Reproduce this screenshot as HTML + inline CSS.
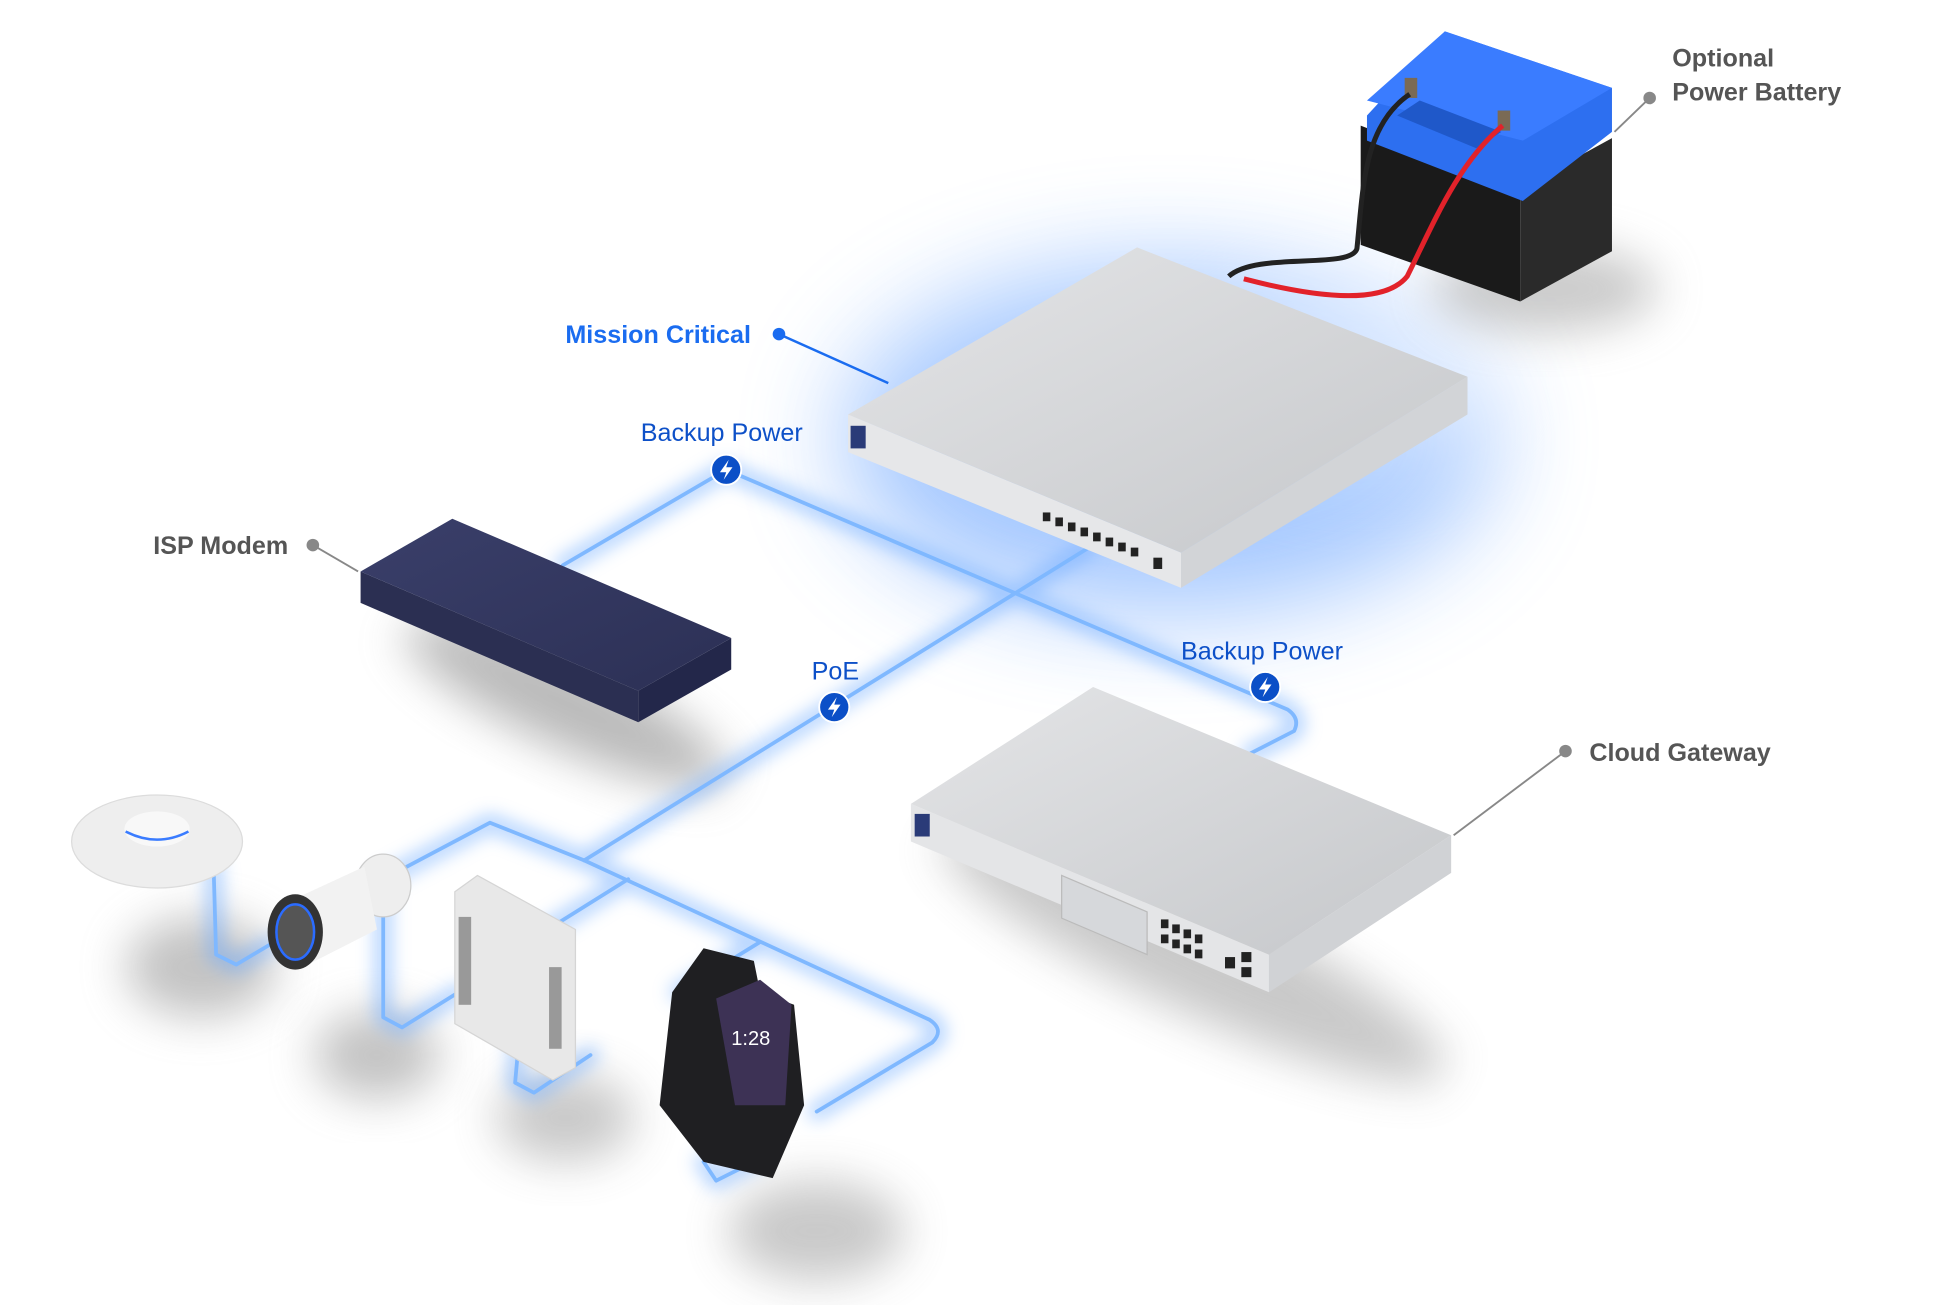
<!DOCTYPE html>
<html><head><meta charset="utf-8"><style>
html,body{margin:0;padding:0;background:#fff;}
svg{display:block;}
</style></head><body>
<svg width="1960" height="1305" viewBox="0 0 1560 1039" preserveAspectRatio="none" xmlns="http://www.w3.org/2000/svg" font-family="Liberation Sans, sans-serif">
<defs>
<filter id="b40" x="-50%" y="-50%" width="200%" height="200%"><feGaussianBlur stdDeviation="40"/></filter>
<filter id="b20" x="-50%" y="-50%" width="200%" height="200%"><feGaussianBlur stdDeviation="18"/></filter>
<filter id="b8" x="-50%" y="-50%" width="200%" height="200%"><feGaussianBlur stdDeviation="7"/></filter>
<linearGradient id="top" x1="0" y1="0" x2="1" y2="1"><stop offset="0" stop-color="#e4e5e7"/><stop offset="1" stop-color="#c5c7ca"/></linearGradient>
<linearGradient id="navy" x1="0" y1="0" x2="1" y2="1"><stop offset="0" stop-color="#3a3f6a"/><stop offset="1" stop-color="#2c3055"/></linearGradient>
</defs>

<!-- glows -->
<ellipse cx="930" cy="350" rx="260" ry="140" fill="#5b9bff" opacity="0.55" filter="url(#b40)"/>
<ellipse cx="1080" cy="300" rx="130" ry="70" fill="#ffffff" opacity="0.5" filter="url(#b40)"/>

<!-- shadows -->
<ellipse cx="1230" cy="230" rx="90" ry="35" fill="#999" opacity="0.5" filter="url(#b20)"/>
<ellipse cx="450" cy="560" rx="140" ry="35" fill="#777" opacity="0.5" filter="url(#b20)" transform="rotate(25 450 560)"/>
<ellipse cx="950" cy="760" rx="220" ry="45" fill="#888" opacity="0.45" filter="url(#b20)" transform="rotate(25 950 760)"/>
<ellipse cx="160" cy="770" rx="60" ry="40" fill="#888" opacity="0.5" filter="url(#b20)"/>
<ellipse cx="300" cy="840" rx="50" ry="35" fill="#888" opacity="0.5" filter="url(#b20)"/>
<ellipse cx="450" cy="890" rx="55" ry="35" fill="#888" opacity="0.45" filter="url(#b20)"/>
<ellipse cx="650" cy="980" rx="70" ry="40" fill="#888" opacity="0.45" filter="url(#b20)"/>

<!-- cables -->
<g fill="none" stroke-linejoin="round" stroke-linecap="round">
<g stroke="#6aa9ff" stroke-width="14" opacity="0.5" filter="url(#b8)">
<path d="M448,450 L578,374 L1025,565 Q1035,572 1030,582 L995,600"/>
<path d="M865,437 L465,685"/>
<path d="M465,685 L390,655 L305,700 L305,810 L320,818 L365,790"/>
<path d="M465,685 L740,812 Q752,820 742,830 L650,885"/>
<path d="M500,700 L420,750 L410,862 L425,870 L470,840"/>
<path d="M605,750 L540,790"/>
<path d="M170,690 L172,760 L188,768 L215,752"/>
<path d="M560,925 L570,940 L600,925"/>
</g>
<g stroke="#7fb8ff" stroke-width="3">
<path d="M448,450 L578,374 L1025,565 Q1035,572 1030,582 L995,600"/>
<path d="M865,437 L465,685"/>
<path d="M465,685 L390,655 L305,700 L305,810 L320,818 L365,790"/>
<path d="M465,685 L740,812 Q752,820 742,830 L650,885"/>
<path d="M500,700 L420,750 L410,862 L425,870 L470,840"/>
<path d="M605,750 L540,790"/>
<path d="M170,690 L172,760 L188,768 L215,752"/>
<path d="M560,925 L570,940 L600,925"/>
</g>
</g>

<!-- battery -->
<polygon points="1083,100 1210,150 1210,240 1083,195" fill="#1a1a1a"/>
<polygon points="1210,150 1283,110 1283,200 1210,240" fill="#2a2a2a"/>
<polygon points="1088,92 1150,25 1283,70 1283,105 1212,160 1088,112" fill="#2d6ff0"/>
<polygon points="1088,80 1150,25 1283,70 1212,112" fill="#3a7cff"/>
<polygon points="1130,80 1195,105 1175,118 1112,92" fill="#1f58c9"/>
<rect x="1118" y="62" width="10" height="16" fill="#7a6a55"/>
<rect x="1192" y="88" width="10" height="16" fill="#7a6a55"/>
<path d="M1122,75 C1085,100 1085,150 1080,198 C1075,215 1000,200 978,220" stroke="#222" stroke-width="4" fill="none"/>
<path d="M1196,100 C1160,130 1140,180 1120,220 C1100,245 1040,235 990,222" stroke="#e2222a" stroke-width="4" fill="none"/>

<!-- main switch -->
<polygon points="675,330 940,440 940,468 675,360" fill="#e6e7e9"/>
<polygon points="940,440 1168,300 1168,330 940,468" fill="#d2d4d7"/>
<polygon points="675,330 905,197 1168,300 940,440" fill="url(#top)"/>
<rect x="677" y="339" width="12" height="18" fill="#2a3b78"/>
<g fill="#222"><rect x="830" y="408" width="6" height="7"/><rect x="840" y="412" width="6" height="7"/><rect x="850" y="416" width="6" height="7"/><rect x="860" y="420" width="6" height="7"/><rect x="870" y="424" width="6" height="7"/><rect x="880" y="428" width="6" height="7"/><rect x="890" y="432" width="6" height="7"/><rect x="900" y="436" width="6" height="7"/><rect x="918" y="444" width="7" height="9"/></g>

<!-- ISP modem -->
<polygon points="287,455 508,550 508,575 287,480" fill="#2b2f52"/>
<polygon points="508,550 582,508 582,533 508,575" fill="#23274a"/>
<polygon points="287,455 360,413 582,508 508,550" fill="url(#navy)"/>

<!-- cloud gateway -->
<polygon points="725,640 1010,760 1010,790 725,670" fill="#e4e5e7"/>
<polygon points="1010,760 1155,665 1155,695 1010,790" fill="#d0d2d5"/>
<polygon points="725,640 870,547 1155,665 1010,760" fill="url(#top)"/>
<rect x="728" y="648" width="12" height="18" fill="#2a3b78"/>
<polygon points="845,697 913,726 913,760 845,731" fill="#d6d8db" stroke="#bbb"/>
<g fill="#222"><rect x="924" y="732" width="6" height="7"/><rect x="933" y="736" width="6" height="7"/><rect x="942" y="740" width="6" height="7"/><rect x="951" y="744" width="6" height="7"/><rect x="924" y="744" width="6" height="7"/><rect x="933" y="748" width="6" height="7"/><rect x="942" y="752" width="6" height="7"/><rect x="951" y="756" width="6" height="7"/><rect x="975" y="762" width="8" height="9"/><rect x="988" y="758" width="8" height="8"/><rect x="988" y="770" width="8" height="8"/></g>

<!-- AP -->
<ellipse cx="125" cy="670" rx="68" ry="37" fill="#eeeeee" stroke="#dcdcdc"/>
<ellipse cx="125" cy="660" rx="26" ry="14" fill="#f8f8f8"/>
<path d="M100,662 Q125,675 150,662" stroke="#3a7cff" stroke-width="2" fill="none"/>
<!-- camera -->
<ellipse cx="305" cy="705" rx="22" ry="25" fill="#eee" stroke="#ccc"/>
<polygon points="225,720 290,690 300,740 245,768" fill="#f2f2f2"/>
<ellipse cx="235" cy="742" rx="22" ry="30" fill="#333"/>
<ellipse cx="235" cy="742" rx="15" ry="22" fill="#555" stroke="#2b6cff" stroke-width="2"/>
<!-- small switch -->
<polygon points="362,710 380,697 458,740 458,850 440,860 362,815" fill="#e8e8e8" stroke="#d5d5d5"/>
<rect x="365" y="730" width="10" height="70" fill="#999"/>
<rect x="437" y="770" width="10" height="65" fill="#999"/>
<!-- phone -->
<polygon points="535,790 560,755 600,765 605,790 632,800 640,880 615,938 560,925 525,880" fill="#1f1f22"/>
<polygon points="570,795 605,780 630,800 625,880 585,880" fill="#3d3255"/>
<text x="582" y="832" font-size="16" fill="#fff">1:28</text>

<!-- leaders -->
<g stroke="#888" stroke-width="1.5"><line x1="249" y1="434" x2="285" y2="455"/><line x1="1313" y1="78" x2="1285" y2="105"/><line x1="1246" y1="598" x2="1157" y2="665"/></g>
<line x1="620" y1="266" x2="707" y2="305" stroke="#1a6cf0" stroke-width="2"/>
<g fill="#888"><circle cx="249" cy="434" r="5"/><circle cx="1313" cy="78" r="5"/><circle cx="1246" cy="598" r="5"/></g>
<circle cx="620" cy="266" r="5" fill="#1a6cf0"/>

<!-- icons -->
<g fill="#0b4fc7" stroke="#fff" stroke-width="1.5">
<circle cx="578" cy="374" r="12"/><circle cx="664" cy="563" r="12"/><circle cx="1007" cy="547" r="12"/>
</g>
<g fill="#fff"><path d="M580,366 L573,376 L578,376 L576,382 L583,372 L578,372 Z"/><path d="M666,555 L659,565 L664,565 L662,571 L669,561 L664,561 Z"/><path d="M1009,539 L1002,549 L1007,549 L1005,555 L1012,545 L1007,545 Z"/></g>

<!-- labels -->
<g font-size="20">
<text x="450" y="273" fill="#1a6cf0" font-weight="bold">Mission Critical</text>
<text x="510" y="351" fill="#0d50c8">Backup Power</text>
<text x="646" y="541" fill="#0d50c8">PoE</text>
<text x="940" y="525" fill="#0d50c8">Backup Power</text>
<text x="122" y="441" fill="#555" font-weight="bold">ISP Modem</text>
<text x="1331" y="53" fill="#555" font-weight="bold">Optional</text>
<text x="1331" y="80" fill="#555" font-weight="bold">Power Battery</text>
<text x="1265" y="606" fill="#555" font-weight="bold">Cloud Gateway</text>
</g>
</svg>
</body></html>
